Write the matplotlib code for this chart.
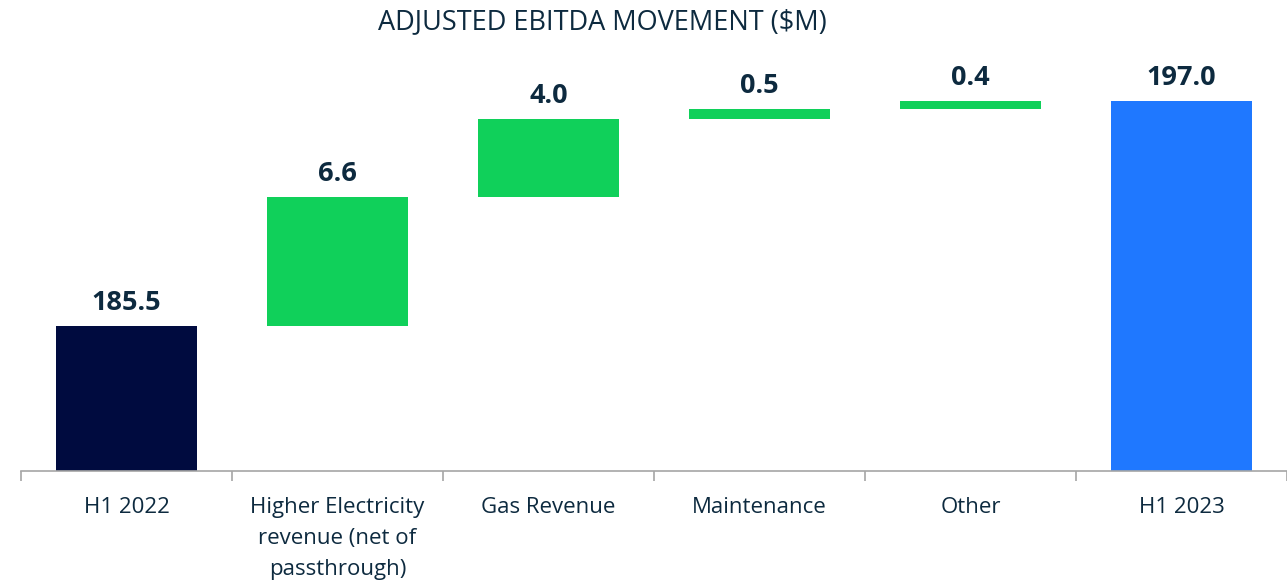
import matplotlib.pyplot as plt
import numpy as np

plt.rcParams['font.family'] = ['Open Sans', 'DejaVu Sans']

# data
categories = ['H1 2022', 'Higher Electricity\nrevenue (net of\npassthrough)',
              'Gas Revenue', 'Maintenance', 'Other', 'H1 2023']
values = [185.5, 6.6, 4.0, 0.5, 0.4, 197.0]
kinds = ['total', 'delta', 'delta', 'delta', 'delta', 'total']

colors = {'start': '#000B3F', 'delta': '#10D05A', 'end': '#1F78FF'}
text_col = '#0D2A3F'

fig = plt.figure(figsize=(12.87, 5.87), dpi=100)
ax = fig.add_axes([0.0163, 0.1976, 0.9837, 0.73])

x = np.arange(len(categories))
running = 0.0
for i, (v, k) in enumerate(zip(values, kinds)):
    if k == 'total':
        bottom, height = 0, v
        running = v
        col = colors['start'] if i == 0 else colors['end']
    else:
        bottom, height = running, v
        running += v
        col = colors['delta']
    ax.bar(x[i], height, bottom=bottom, width=0.67, color=col)
    ax.annotate(f'{v:.1f}', (x[i], bottom + height), xytext=(0, 7),
                textcoords='offset points', ha='center', va='bottom',
                fontsize=19.5, fontweight='bold', color=text_col)

ax.set_ylim(178.1, 200)
ax.set_xlim(-0.5, len(categories) - 0.5)

for s in ['top', 'right', 'left']:
    ax.spines[s].set_visible(False)
ax.spines['bottom'].set_color('#A6A6A6')
ax.spines['bottom'].set_linewidth(1.2)
ax.set_yticks([])

ax.set_xticks(x)
ax.set_xticklabels(categories, fontsize=16, color=text_col, linespacing=1.6)
ax.tick_params(axis='x', which='major', length=0, pad=19)
ax.set_xticks(np.arange(-0.5, len(categories), 1), minor=True)
ax.tick_params(axis='x', which='minor', length=7, width=1.2, color='#A6A6A6')

fig.text(602 / 1287, 1 - 22 / 587, 'ADJUSTED EBITDA MOVEMENT ($M)', ha='center',
         va='center', fontsize=19.5, color=text_col)

fig.savefig('out.png', dpi=100)
